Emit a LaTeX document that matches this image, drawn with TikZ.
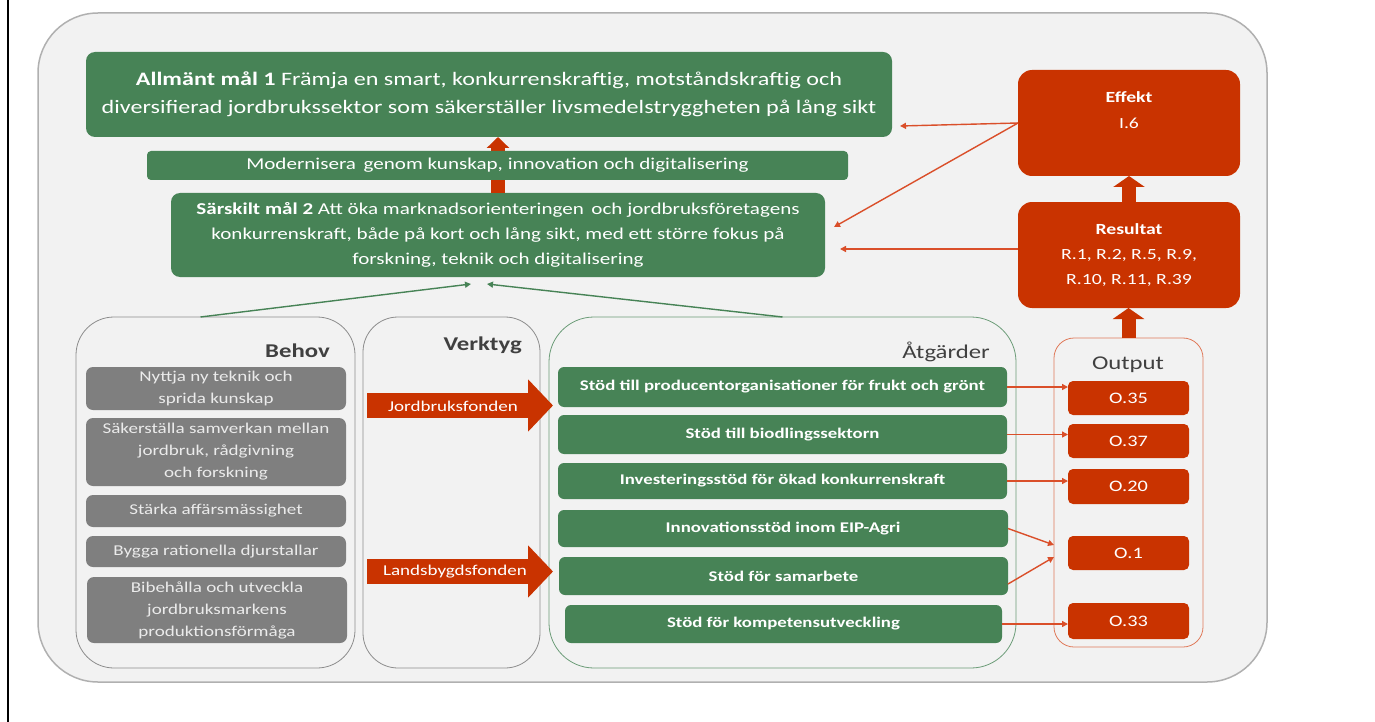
\documentclass[tikz,border=0pt]{standalone}
\usepackage{fontspec}
\setmainfont{Carlito}[FakeStretch=1.27]
\usetikzlibrary{arrows.meta}
\definecolor{grn}{HTML}{478356}
\definecolor{rd}{HTML}{C93300}
\definecolor{rdl}{HTML}{DA4F2A}
\definecolor{gbox}{HTML}{7F7F7F}
\definecolor{bg}{HTML}{F2F2F2}
\definecolor{frame}{HTML}{B0B0B0}
\definecolor{cframe}{HTML}{8C8C8C}
\definecolor{lbl}{HTML}{404040}
\definecolor{ofr}{HTML}{E07A5A}
\newcommand\pbox[7]{%
  \node[#2, minimum width={(#5)-(#3)}, minimum height={(#6)-(#4)}] (#1) at ({((#3)+(#5))/2},{((#4)+(#6))/2}) {#7};}
\begin{document}
\begin{tikzpicture}[x=1pt,y=-1pt,
  box/.style={rounded corners=9pt, inner sep=0pt, outer sep=0pt, align=center, text=white},
  gbx/.style={box, fill=grn},
  rbx/.style={box, fill=rd, rounded corners=14pt},
  obx/.style={box, fill=rd, rounded corners=5pt, font=\fontsize{16}{18}\selectfont},
  graybx/.style={box, fill=gbox, text=white!92!black, rounded corners=7pt, font=\fontsize{15}{22}\selectfont},
  actbx/.style={box, fill=grn, rounded corners=6pt, font=\bfseries\fontsize{14.8}{17}\selectfont},
  cont/.style={draw=cframe, line width=0.8pt, rounded corners=#1, inner sep=0pt, outer sep=0pt},
  lab/.style={text=lbl, inner sep=0pt, font=\fontsize{19.5}{22}\selectfont},
  thinr/.style={draw=rdl, line width=1.4pt, -{Triangle[length=6pt,width=6pt]}},
  thing/.style={draw=grn, line width=1.4pt, -{Triangle[length=6pt,width=6pt]}},
  blk/.style={draw=rd, line width=14pt, -{Triangle[length=11pt,width=31pt]}},
  fund/.style={draw=rd, line width=25pt, -{Triangle[length=25pt,width=51pt]}},
  fundtxt/.style={text=white, inner sep=0pt, font=\fontsize{15}{17}\selectfont}
]
\useasboundingbox (0,0) rectangle (1375,722);
\fill[white] (0,0) rectangle (1375,722);
\draw[black, line width=2pt] (8,0) -- (8,722);
% outer frame
\pbox{outer}{draw=frame, fill=bg, line width=1.5pt, rounded corners=60pt, inner sep=0pt, outer sep=0pt}{38}{13}{1267}{682}{}
% goals
\pbox{allm}{gbx, font=\fontsize{19}{28}\selectfont}{86}{52}{892}{137}{\textbf{Allmänt mål 1} Främja en smart, konkurrenskraftig, motståndskraftig och\\diversifierad jordbrukssektor som säkerställer livsmedelstryggheten på lång sikt}
\pbox{sars}{gbx, font=\fontsize{16.6}{25}\selectfont}{171}{193}{825}{277}{\textbf{Särskilt mål 2} Att öka marknadsorienteringen\, och jordbruksföretagens\\konkurrenskraft, både på kort och lång sikt, med ett större fokus på\\forskning, teknik och digitalisering}
\draw[draw=rd, line width=14pt, -{Triangle[length=11pt,width=22pt]}] (sars.north) -- (sars.north |- allm.south);
\pbox{mod}{gbx, rounded corners=4pt, font=\fontsize{16.6}{20}\selectfont}{147}{151}{848}{180}{Modernisera\, genom kunskap, innovation och digitalisering}
% result side
\pbox{eff}{rbx, font=\fontsize{15.5}{26}\selectfont}{1018}{70}{1240}{176}{\textbf{Effekt}\\I.6\\\mbox{}}
\pbox{res}{rbx, font=\fontsize{15.5}{25}\selectfont}{1018}{202}{1240}{308}{\textbf{Resultat}\\R.1, R.2, R.5, R.9,\\R.10, R.11, R.39}
\draw[blk] (res.north) -- (eff.south);
% containers
\pbox{behov}{cont=38pt}{76}{317}{355}{668}{}
\pbox{verk}{cont=35pt}{363}{317}{540}{668}{}
\pbox{atg}{cont=45pt, draw=grn!80!white}{549}{317}{1016}{668}{}
\pbox{outc}{cont=20pt, draw=ofr}{1054}{338}{1203}{647}{}
\draw[blk] (outc.north) -- (outc.north |- res.south);
\node[lab, font=\bfseries\fontsize{19.5}{22}\selectfont, anchor=east] (behovl) at (330,351) {Behov};
\node[lab, font=\bfseries\fontsize{19.5}{22}\selectfont, anchor=east] (verkl) at (522,345) {Verktyg};
\node[lab, anchor=east] (atgl) at (990,352) {Åtgärder};
\node[lab] (outl) at (1128,365) {Output};
% needs
\pbox{n1}{graybx}{86}{367}{346}{410}{Nyttja ny teknik och\\sprida kunskap}
\pbox{n2}{graybx}{86}{418}{346}{486}{Säkerställa samverkan mellan\\jordbruk, rådgivning\\och forskning}
\pbox{n3}{graybx}{86}{495}{346}{527}{Stärka affärsmässighet}
\pbox{n4}{graybx}{86}{536}{346}{567}{Bygga rationella djurstallar}
\pbox{n5}{graybx}{87}{577}{347}{643}{Bibehålla och utveckla\\jordbruksmarkens\\produktionsförmåga}
% funds
\coordinate (jf1) at (367,405.5);
\coordinate (jf2) at (553,405.5);
\coordinate (lf1) at (367,571.5);
\coordinate (lf2) at (553,571.5);
\draw[fund] (jf1) -- (jf2);
\draw[fund] (lf1) -- (lf2);
\node[fundtxt] (jft) at (453,406) {Jordbruksfonden};
\node[fundtxt] (lft) at (455,572) {Landsbygdsfonden};
% actions
\pbox{b1}{actbx}{558}{367}{1007}{407}{Stöd till producentorganisationer för frukt och grönt}
\pbox{b2}{actbx}{558}{415}{1007}{454}{Stöd till biodlingssektorn}
\pbox{b3}{actbx}{558}{463}{1007}{499}{Investeringsstöd för ökad konkurrenskraft}
\pbox{b4}{actbx}{558}{510}{1008}{547}{Innovationsstöd inom EIP-Agri}
\pbox{b5}{actbx}{559}{557}{1008}{595}{Stöd för samarbete}
\pbox{b6}{actbx}{565}{605}{1002}{643}{Stöd för kompetensutveckling}
% outputs
\pbox{o35}{obx}{1068}{381}{1189}{415}{O.35}
\pbox{o37}{obx}{1068}{424}{1189}{458}{O.37}
\pbox{o20}{obx}{1068}{469}{1189}{504}{O.20}
\pbox{o1}{obx}{1068}{536}{1189}{570}{O.1}
\pbox{o33}{obx}{1068}{603}{1189}{639}{O.33}
\draw[thinr] (b1.east) -- (b1.east -| o35.west);
\draw[thinr] (b2.east) -- (b2.east -| o37.west);
\draw[thinr] (b3.east) -- (b3.east -| o20.west);
\draw[thinr] (b6.east) -- (b6.east -| o33.west);
\draw[thinr] (b4.east) -- ([xshift=-14pt,yshift=8pt]o1.west);
\draw[thinr] ([yshift=-8pt]b5.east) -- ([xshift=-14pt,yshift=-4pt]o1.west);
% effect arrows
\coordinate (ea) at (900,126);
\coordinate (es) at (834,227);
\coordinate (rs) at (840,249);
\draw[thinr] (eff.west) -- (ea);
\draw[thinr] (eff.west) -- (es);
\draw[thinr] ([yshift=6pt]res.west) -- (rs);
% green arrows
\draw[thing] ([xshift=-15pt]behov.north) -- ([xshift=-27pt,yshift=-7pt]sars.south);
\draw[thing] (atg.north) -- ([xshift=-11pt,yshift=-7pt]sars.south);
\end{tikzpicture}
\end{document}
